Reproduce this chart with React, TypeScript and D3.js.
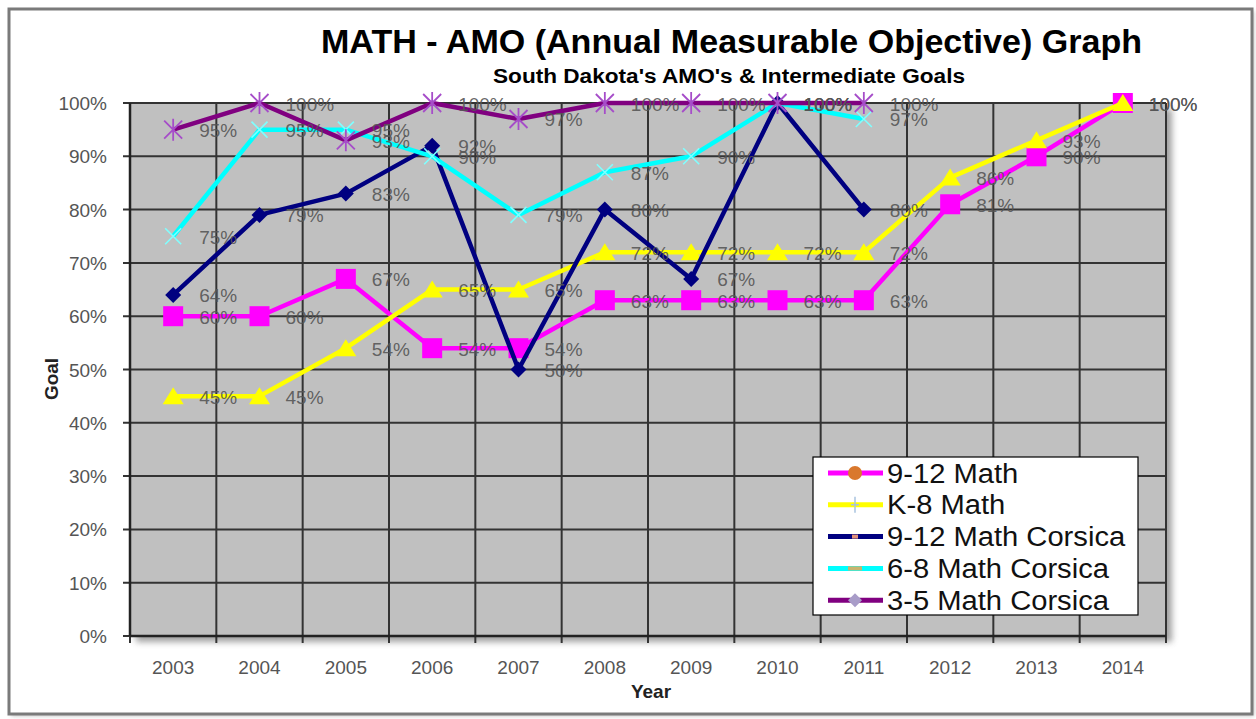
import React, { useEffect } from "react";
import * as d3 from "d3";

const years = ["2003", "2004", "2005", "2006", "2007", "2008", "2009", "2010", "2011", "2012", "2013", "2014"];
const math912: (number | null)[] = [60, 60, 67, 54, 54, 63, 63, 63, 63, 81, 90, 100];
const mathK8: (number | null)[] = [45, 45, 54, 65, 65, 72, 72, 72, 72, 86, 93, 100];
const corsica912: (number | null)[] = [64, 79, 83, 92, 50, 80, 67, 100, 80, null, null, null];
const corsica68: (number | null)[] = [75, 95, 95, 90, 79, 87, 90, 100, 97, null, null, null];
const corsica35: (number | null)[] = [95, 100, 93, 100, 97, 100, 100, 100, 100, null, null, null];
const yTicks = [0, 10, 20, 30, 40, 50, 60, 70, 80, 90, 100];
const seriesNames = ["9-12 Math", "K-8 Math", "9-12 Math Corsica", "6-8 Math Corsica", "3-5 Math Corsica"];

const W = 1256;
const H = 719;
const PL = 130, PR = 1166, PT = 103, PB = 636;
const FONT = "Arial, 'Liberation Sans', sans-serif";

type Series = { name: string; values: (number | null)[]; color: string; marker: string };

const series: Series[] = [
  { name: seriesNames[0], values: math912, color: "#FF00FF", marker: "square" },
  { name: seriesNames[1], values: mathK8, color: "#FFFF00", marker: "triangle" },
  { name: seriesNames[2], values: corsica912, color: "#000080", marker: "diamond" },
  { name: seriesNames[3], values: corsica68, color: "#00FFFF", marker: "x" },
  { name: seriesNames[4], values: corsica35, color: "#800080", marker: "star" },
];

function Marker({ type, x, y }: { type: string; x: number; y: number }) {
  if (type === "square") {
    return <rect x={x - 10} y={y - 10} width={20} height={20} fill="#FF00FF" />;
  }
  if (type === "triangle") {
    return <path d={`M${x},${y - 9} L${x + 10.5},${y + 8} L${x - 10.5},${y + 8} Z`} fill="#FFFF00" />;
  }
  if (type === "diamond") {
    return <path d={`M${x},${y - 8} L${x + 8},${y} L${x},${y + 8} L${x - 8},${y} Z`} fill="#000080" />;
  }
  if (type === "x") {
    const s = 8;
    return (
      <path d={`M${x - s},${y - s} L${x + s},${y + s} M${x - s},${y + s} L${x + s},${y - s}`} stroke="#7FFFFF" strokeWidth={1.6} fill="none" />
    );
  }
  const s = 9;
  return (
    <path
      d={`M${x - s},${y - s} L${x + s},${y + s} M${x - s},${y + s} L${x + s},${y - s} M${x},${y - s - 2} L${x},${y + s + 2}`}
      stroke="#A64DC9"
      strokeWidth={1.8}
      fill="none"
    />
  );
}

export default function App() {
  useEffect(() => {
    document.body.style.margin = "0";
  }, []);

  const x = d3.scaleBand<string>().domain(years).range([PL, PR]).paddingInner(0).paddingOuter(0);
  const bw = x.bandwidth();
  const cx = (yr: string) => (x(yr) as number) + bw / 2;
  const y = d3.scaleLinear().domain([0, 100]).range([PB, PT]);

  const line = d3
    .line<number | null>()
    .defined((d) => d !== null)
    .x((_, i) => cx(years[i]))
    .y((d) => y(d as number));

  const boundaries = years.map((yr) => x(yr) as number).concat([PR]);

  const legendX = 813, legendY = 457, legendW = 325, legendH = 158;
  const rowY = (i: number) => 473 + i * 31.8;

  return (
    <svg width={W} height={H} style={{ display: "block", background: "#fff" }} fontFamily={FONT}>
      <defs>
        <filter id="sh" x="-10%" y="-10%" width="130%" height="130%">
          <feGaussianBlur stdDeviation="3" />
        </filter>
        <filter id="sh2" x="-5%" y="-5%" width="110%" height="110%">
          <feGaussianBlur stdDeviation="2" />
        </filter>
      </defs>
      {/* outer chart border */}
      <rect x={11} y={11} width={1243} height={705} fill="#9a9a9a" filter="url(#sh2)" opacity={0.6} />
      <rect x={9} y={9} width={1243} height={705} fill="#fff" stroke="#7a7a7a" strokeWidth={3} />

      {/* Title */}
      <text x={731.5} y={53} textAnchor="middle" fontWeight="bold" fontSize={34} fill="#000" textLength={821} lengthAdjust="spacingAndGlyphs">
        MATH - AMO (Annual Measurable Objective) Graph
      </text>
      <text x={729} y={83} textAnchor="middle" fontWeight="bold" fontSize={19.5} fill="#000" textLength={472} lengthAdjust="spacingAndGlyphs">
        South Dakota's AMO's &amp; Intermediate Goals
      </text>

      {/* plot shadow */}
      <rect x={PL + 6} y={PT + 6} width={PR - PL} height={PB - PT} fill="#8a8a8a" filter="url(#sh)" opacity={0.8} />
      {/* plot area */}
      <rect x={PL} y={PT} width={PR - PL} height={PB - PT} fill="#C0C0C0" />

      {/* horizontal gridlines */}
      {yTicks.map((t) => (
        <line key={"h" + t} x1={PL - 7} x2={PR} y1={y(t)} y2={y(t)} stroke="#333" strokeWidth={2} />
      ))}
      {/* vertical gridlines */}
      {boundaries.map((b, i) => (
        <line key={"v" + i} x1={b} x2={b} y1={PT} y2={PB + 7} stroke="#333" strokeWidth={2} />
      ))}
      <line x1={PL} x2={PL} y1={PT} y2={PB} stroke="#222" strokeWidth={2.5} />
      <line x1={PL} x2={PR} y1={PB} y2={PB} stroke="#222" strokeWidth={2.5} />

      {/* y tick labels */}
      {yTicks.map((t) => (
        <text key={"yl" + t} x={107} y={y(t) + 7} textAnchor="end" fontSize={19} fill="#555">
          {t}%
        </text>
      ))}
      {/* x tick labels */}
      {years.map((yr) => (
        <text key={"xl" + yr} x={cx(yr)} y={674} textAnchor="middle" fontSize={19} fill="#555">
          {yr}
        </text>
      ))}

      {/* axis titles */}
      <text x={651} y={698} textAnchor="middle" fontWeight="bold" fontSize={19} fill="#222">
        Year
      </text>
      <text transform="translate(58,379) rotate(-90)" textAnchor="middle" fontWeight="bold" fontSize={19} fill="#222">
        Goal
      </text>

      {/* series */}
      {series.map((s) => (
        <g key={s.name}>
          <path d={line(s.values) || ""} fill="none" stroke={s.color} strokeWidth={4.5} strokeLinejoin="round" />
          {s.values.map((v, i) =>
            v === null ? null : <Marker key={i} type={s.marker} x={cx(years[i])} y={y(v)} />
          )}
        </g>
      ))}

      {/* data labels */}
      {series.map((s) => (
        <g key={"lab" + s.name}>
          {s.values.map((v, i) =>
            v === null ? null : (
              <text key={i} x={cx(years[i]) + 26} y={y(v) + 7.5} fontSize={19} fill="#555" fillOpacity={0.9}>
                {v}%
              </text>
            )
          )}
        </g>
      ))}

      {/* legend */}
      <rect x={legendX} y={legendY} width={legendW} height={legendH} fill="#fff" stroke="#000" strokeWidth={1.2} />
      {series.map((s, i) => {
        const ry = rowY(i);
        return (
          <g key={"lg" + s.name}>
            <line x1={828} x2={883} y1={ry} y2={ry} stroke={s.color} strokeWidth={5} />
            {i === 0 && <circle cx={855} cy={ry} r={7} fill="#D9782D" />}
            {i === 1 && (
              <path d={`M${855},${ry - 8} L${855},${ry + 8} M${851},${ry} L${859},${ry}`} stroke="#A9C4E0" strokeWidth={1.5} />
            )}
            {i === 2 && <rect x={852} y={ry - 2} width={6} height={4} fill="#E0907A" />}
            {i === 3 && <rect x={848} y={ry - 2} width={14} height={4} fill="#C8B46E" />}
            {i === 4 && <path d={`M855,${ry - 7} L862,${ry} L855,${ry + 7} L848,${ry} Z`} fill="#A89CC8" />}
            <text transform={`translate(887,${ry + 9.5}) scale(1.08,1)`} fontSize={27} fill="#111">
              {s.name}
            </text>
          </g>
        );
      })}
    </svg>
  );
}
